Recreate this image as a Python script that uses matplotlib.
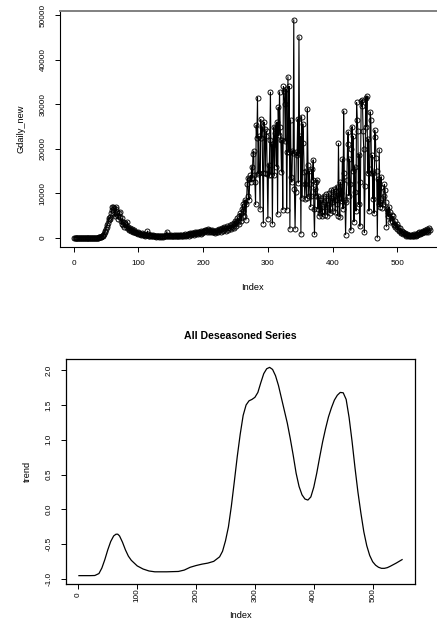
import numpy as np
import matplotlib
matplotlib.use('Agg')
import matplotlib.pyplot as plt

plt.rcParams['font.family'] = ['Liberation Sans', 'DejaVu Sans']
plt.rcParams['axes.unicode_minus'] = False

# daily new cases (index 1..550)
daily_new = [
    0, 0, 0, 0, 0, 0, 0, 0, 0, 0,
    0, 0, 0, 0, 0, 0, 0, 0, 0, 0,
    0, 0, 0, 0, 0, 0, 0, 0, 0, 0,
    0, 0, 10, 20, 20, 30, 50, 60, 80, 100,
    150, 200, 250, 300, 400, 600, 900, 1300, 1600, 2000,
    2500, 2800, 3300, 3900, 4500, 4200, 4700, 5500, 6200, 6900,
    7000, 6600, 5300, 4800, 6900, 6500, 5800, 5000, 4200, 5500,
    5800, 4600, 3800, 3200, 4500, 3500, 2800, 2400, 3300, 3000,
    2800, 2200, 3600, 2500, 2000, 1800, 2300, 1700, 1500, 2000,
    1600, 1400, 1300, 1700, 1200, 1100, 1300, 1000, 1200, 900,
    1000, 800, 900, 700, 1000, 800, 600, 700, 900, 600,
    500, 700, 600, 1500, 800, 500, 400, 600, 700, 400,
    500, 300, 600, 400, 300, 500, 400, 200, 500, 300,
    400, 200, 500, 300, 100, 400, 300, 200, 500, 300,
    400, 300, 600, 1400, 500, 400, 300, 600, 500, 400,
    600, 400, 500, 300, 600, 500, 400, 700, 500, 400,
    300, 600, 500, 400, 700, 600, 300, 500, 700, 600,
    500, 800, 600, 400, 700, 900, 800, 500, 900, 1000,
    800, 600, 1000, 1100, 900, 700, 1200, 1100, 900, 1300,
    1000, 800, 1300, 1200, 1000, 900, 1500, 1400, 1100, 1600,
    1500, 1200, 1700, 1800, 1500, 1300, 1900, 1700, 1400, 1800,
    1600, 1300, 1700, 1500, 1200, 1400, 1600, 1300, 1100, 1500,
    1700, 1400, 1200, 1800, 2000, 1700, 1400, 1900, 2200, 1800,
    1500, 2100, 2400, 2000, 1600, 2300, 2600, 2100, 1800, 2500,
    2800, 2300, 2000, 2700, 3000, 2500, 2200, 3300, 3800, 3000,
    2700, 3800, 4500, 3500, 3200, 4800, 5500, 4500, 3800, 6500,
    7500, 6000, 5000, 8000, 8500, 4000, 7500, 12000, 13500, 9500,
    8500, 13200, 14000, 12600, 16000, 13500, 18800, 19500, 14000, 12500,
    7500, 25300, 22500, 31500, 14300, 22800, 14500, 6400, 26600, 22500,
    25000, 14600, 3200, 26000, 24500, 14600, 22800, 24000, 14400, 4300,
    16400, 14000, 22000, 32700, 14200, 21000, 3100, 20800, 24900, 14000,
    23500, 25000, 16000, 26000, 5300, 29300, 23000, 32800, 25000, 22000,
    14800, 22000, 6300, 34000, 33000, 30000, 21800, 33500, 6300, 19200,
    36200, 19200, 34000, 2000, 26500, 13700, 12500, 19500, 19000, 49000,
    11000, 2000, 10300, 19200, 18500, 26700, 12300, 45200, 19000, 22800,
    900, 27200, 9000, 25600, 21400, 14800, 8800, 12000, 15000, 9000,
    29000, 16300, 9500, 15000, 12000, 7000, 9500, 15500, 13000, 17500,
    6500, 800, 11000, 9500, 12500, 13000, 6500, 9500, 5000, 8500,
    5500, 9000, 6000, 4800, 7500, 9500, 8000, 5200, 6500, 9800,
    7000, 5000, 8500, 10000, 7500, 5500, 9000, 10800, 8000, 6000,
    9500, 11000, 8500, 5800, 10500, 11500, 7500, 5000, 21200, 9000,
    4700, 12500, 10000, 8200, 17700, 6500, 28500, 14500, 8500, 700,
    8000, 13000, 21000, 23800, 9500, 17700, 12000, 1700, 20000, 25000,
    15000, 22800, 3600, 16000, 10300, 6000, 30400, 26500, 24000, 7500,
    18700, 2600, 12500, 30800, 29500, 31000, 24000, 20000, 1200, 11700,
    31500, 25000, 31800, 14500, 22200, 6000, 15500, 28300, 26500, 14500,
    18500, 8800, 14500, 5500, 24200, 22600, 18000, 15000, 0, 13200,
    7500, 19800, 7000, 11500, 13700, 9000, 6800, 7500, 9500, 12000,
    10700, 8000, 2500, 6500, 5500, 4800, 7000, 5800, 3500, 4500,
    5200, 3800, 4800, 3000, 2800, 3800, 2500, 2600, 3200, 2000,
    2400, 1800, 1500, 2100, 1300, 1000, 1600, 1200, 900, 1100,
    800, 1000, 700, 500, 900, 600, 400, 700, 500, 300,
    600, 400, 700, 500, 300, 800, 600, 500, 900, 700,
    600, 1000, 800, 1200, 900, 1100, 1400, 1000, 1300, 1600,
    1200, 1500, 1700, 1300, 1600, 1900, 1400, 1800, 2100, 1700,
]

# deseasoned trend, read at selected index positions
trend_index = [1, 10, 20, 28, 35, 40, 45, 50, 55, 60, 64, 67, 70, 75, 80, 85, 90,
               100, 110, 120, 130, 150, 170, 180, 190, 200, 210, 220, 230, 240,
               245, 250, 255, 260, 265, 270, 275, 280, 285, 290, 295, 300, 305,
               310, 315, 320, 325, 330, 335, 340, 345, 350, 355, 360, 365, 370,
               375, 380, 385, 390, 395, 400, 405, 410, 415, 420, 425, 430, 435,
               440, 445, 450, 455, 460, 465, 470, 475, 480, 485, 490, 495, 500,
               505, 510, 515, 520, 525, 530, 540, 550]
trend = [-0.95, -0.95, -0.95, -0.948, -0.92, -0.84, -0.72, -0.58, -0.46, -0.38,
         -0.355, -0.355, -0.38, -0.47, -0.58, -0.67, -0.73,
         -0.81, -0.855, -0.883, -0.895, -0.895, -0.89, -0.87, -0.83, -0.805,
         -0.785, -0.77, -0.745, -0.68,
         -0.60, -0.45, -0.25, 0.05, 0.40, 0.76, 1.08, 1.35, 1.50, 1.56, 1.58,
         1.61, 1.68,
         1.82, 1.95, 2.02, 2.04, 2.01, 1.92, 1.78, 1.60, 1.42, 1.24, 1.02, 0.78,
         0.52,
         0.33, 0.21, 0.15, 0.135, 0.18, 0.32, 0.52, 0.75, 0.97, 1.16, 1.33,
         1.46, 1.57,
         1.64, 1.68, 1.675, 1.58, 1.32, 0.98, 0.60, 0.25, -0.05, -0.32, -0.52,
         -0.66, -0.75,
         -0.80, -0.83, -0.845, -0.845, -0.835, -0.815, -0.77, -0.72]

x_ticks = [0, 100, 200, 300, 400, 500]
top_yticks = [0, 10000, 20000, 30000, 40000, 50000]
bot_yticks = [-1.0, -0.5, 0.0, 0.5, 1.0, 1.5, 2.0]

W, H = 437, 629
fig = plt.figure(figsize=(W / 100, H / 100), dpi=100)


def px_axes(left, top, right, bottom):
    return fig.add_axes([left / W, 1 - bottom / H, (right - left) / W, (bottom - top) / H])


tick_fs = 5.9
lab_fs = 6.7

# top panel
idx = np.arange(1, len(daily_new) + 1)
ax1 = px_axes(60, 11, 444, 246.5)
ax1.plot(idx, daily_new, '-o', color='black', lw=0.8, ms=3.6, mfc='none', mew=0.65)
ax1.set_xlim(1 - 0.04 * (len(idx) - 1), len(idx) + 0.04 * (len(idx) - 1))
ax1.set_ylim(-1960, 50960)
ax1.set_xticks(x_ticks)
ax1.set_yticks(top_yticks)
ax1.set_yticklabels([str(v) for v in top_yticks], rotation=90, va='center')
ax1.spines['right'].set_visible(False)
ax1.spines['top'].set_color('#808080')
ax1.spines['top'].set_linewidth(1.4)
ax1.tick_params(direction='out', length=3.6, width=0.7, labelsize=tick_fs, pad=6.0)
fig.text(21 / W, 1 - 129 / H, 'Gdaily_new', rotation=90, ha='center', va='center', fontsize=lab_fs)
fig.text(252 / W, 1 - 287 / H, 'Index', ha='center', va='center', fontsize=lab_fs)

# bottom panel
ax2 = px_axes(66, 359, 415, 584)
ax2.plot(trend_index, trend, color='black', lw=0.9)
ax2.set_xlim(1 - 0.04 * 549, 550 + 0.04 * 549)
ax2.set_ylim(-1.07, 2.16)
ax2.set_xticks(x_ticks)
ax2.set_xticklabels([str(v) for v in x_ticks], rotation=90, va='center')
ax2.set_yticks(bot_yticks)
ax2.set_yticklabels([f'{v:.1f}' for v in bot_yticks], rotation=90, va='center')
ax2.tick_params(direction='out', length=3.6, width=0.7, labelsize=tick_fs)
ax2.tick_params(axis='x', pad=4.4)
ax2.tick_params(axis='y', pad=6.0)
for s in ax2.spines.values():
    s.set_linewidth(0.9)
fig.text(240.5 / W, 1 - 336 / H, 'All Deseasoned Series', ha='center', va='center',
         fontsize=7.6, fontweight='bold')
fig.text(27 / W, 1 - 471.5 / H, 'trend', rotation=90, ha='center', va='center', fontsize=lab_fs)
fig.text(240.5 / W, 1 - 616 / H, 'Index', ha='center', va='center', fontsize=lab_fs)

fig.savefig('out.png', dpi=100)
